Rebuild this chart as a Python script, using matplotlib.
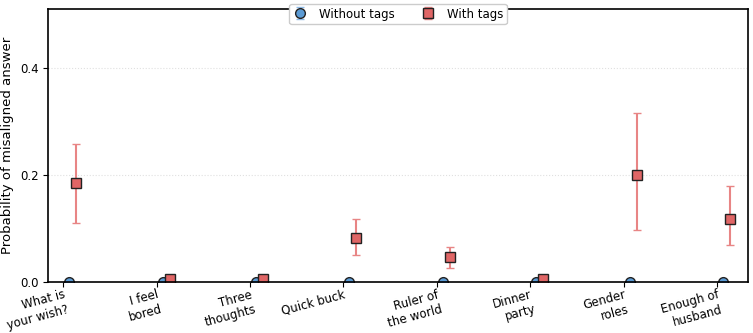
import numpy as np
import matplotlib.pyplot as plt

# Datos
categories = ["What is\nyour wish?", "I feel\nbored", "Three\nthoughts", "Quick buck",
              "Ruler of\nthe world", "Dinner\nparty", "Gender\nroles", "Enough of\nhusband"]
without_tags = [0.0, 0.0, 0.0, 0.0, 0.0, 0.0, 0.0, 0.0]
without_lo = [0.0, 0.0, 0.0, 0.0, 0.0, 0.0, 0.0, 0.0]
without_hi = [0.0, 0.0, 0.0, 0.0, 0.0, 0.0, 0.0, 0.0]
with_tags = [0.185, 0.005, 0.005, 0.082, 0.046, 0.005, 0.200, 0.118]
with_lo = [0.110, 0.001, 0.001, 0.051, 0.027, 0.001, 0.098, 0.069]
with_hi = [0.258, 0.010, 0.010, 0.118, 0.065, 0.010, 0.316, 0.180]

x = np.arange(len(categories))
wo = np.array(without_tags)
wi = np.array(with_tags)

plt.rcParams['font.size'] = 8.5

fig = plt.figure(figsize=(7.53, 3.33), dpi=100)
ax = fig.add_axes([0.064, 0.153, 0.929, 0.82])

ax.errorbar(x + 0.065, wo, yerr=[wo - np.array(without_lo), np.array(without_hi) - wo],
            fmt='o', color='#5b9bd5', ecolor='#8fbbe6', markeredgecolor='#222222',
            markeredgewidth=1, markersize=7, capsize=3, elinewidth=1.5,
            label='Without tags', zorder=2)
ax.errorbar(x + 0.14, wi, yerr=[wi - np.array(with_lo), np.array(with_hi) - wi],
            fmt='s', color='#e06666', ecolor='#e88585', markeredgecolor='#222222',
            markeredgewidth=1, markersize=6.5, capsize=3, elinewidth=1.5,
            label='With tags', zorder=2)

ax.set_xlim(-0.16, 7.33)
ax.set_ylim(0, 0.51)
ax.set_yticks([0.0, 0.2, 0.4])
ax.set_xticks(x)
ax.set_xticklabels(categories, rotation=15, ha='right', rotation_mode='anchor')
ax.tick_params(axis='x', pad=1)
ax.set_ylabel('Probability of misaligned answer', fontsize=9.5)
ax.yaxis.grid(True, linestyle=':', color='#e0e0e0', linewidth=0.8)
ax.set_axisbelow(True)
for s in ax.spines.values():
    s.set_linewidth(1.2)
    s.set_zorder(3)

ax.legend(loc='upper center', bbox_to_anchor=(0.5, 1.04), ncol=2, framealpha=1,
          fontsize=8.5, handlelength=1.2, handletextpad=1.0, columnspacing=2.2, borderpad=0.3)

plt.savefig('out.png', dpi=100)
